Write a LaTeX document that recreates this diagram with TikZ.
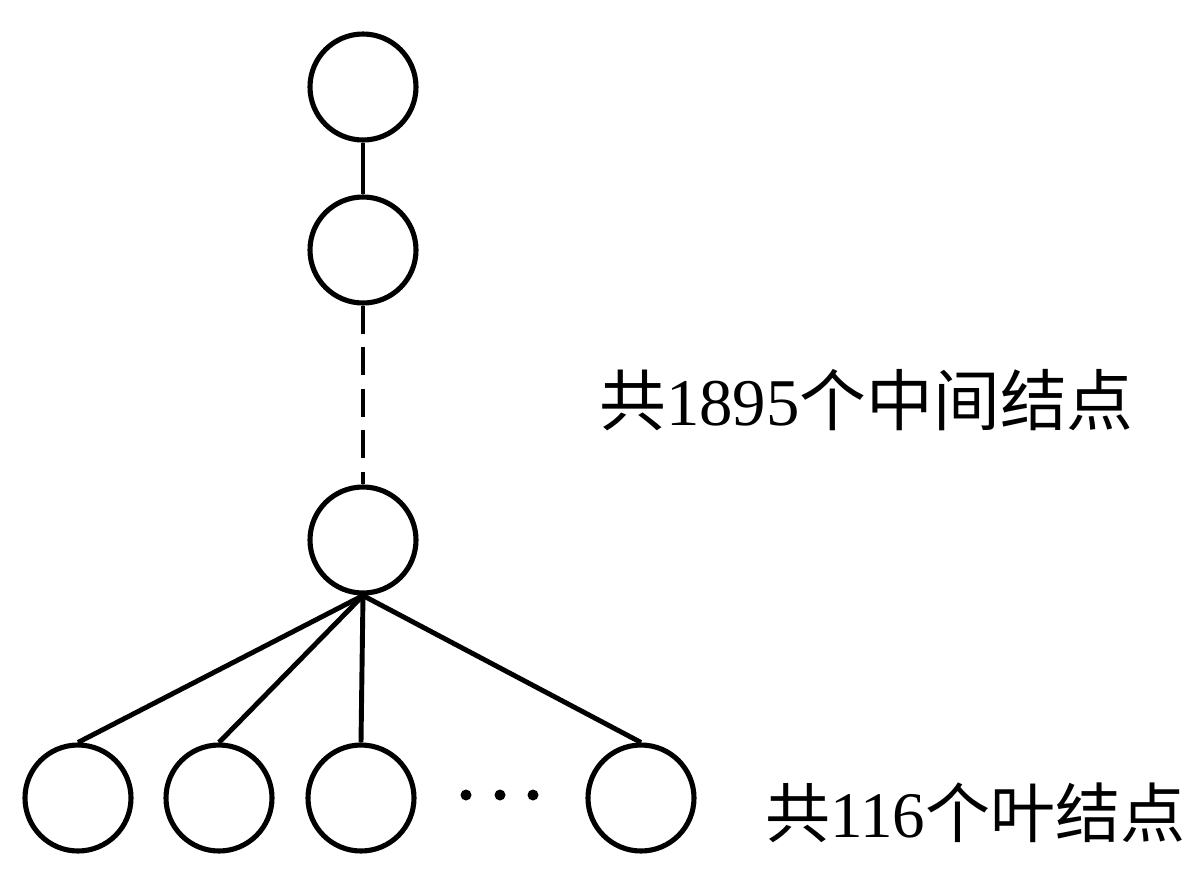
\documentclass[tikz,border=0pt]{standalone}
\usepackage{fontspec}
\setmainfont{Liberation Serif}
\newfontfamily\cjk{Noto Sans CJK SC}
\tikzset{
	tnode/.style={draw=black,circle,line width=2.9pt,minimum size=2.12cm,inner sep=0pt},
	tedge/.style={line width=2.8pt},
	lbl/.style={font=\fontsize{38}{41}\selectfont,inner sep=0pt,anchor=base west}
}
\begin{document}
	\begin{tikzpicture}
		\useasboundingbox (0,0) rectangle (23.92,-17.6);
		
		\node[tnode] (n1) at (7.26,-1.74) {};
		\node[tnode] (n2) at (7.26,-5.0) {};
		\node[tnode] (n3) at (7.26,-10.8) {};
		
		\draw [tedge] (n1) -- (n2);
		\draw [tedge,dash pattern=on 0.56cm off 0.27cm] (n2) -- (n3);
		
		\foreach \i/\x in {1/1.56,2/4.38,3/7.22,4/12.82}
		{
			\node[tnode] (l\i) at (\x,-15.96) {};
			\draw [tedge] (n3.south) -- (l\i.north);
		}
		
		\foreach \x in {9.32,10.0,10.66}
			\fill (\x,-15.9) circle (0.11);
		
		\node[lbl] (t1) at (11.98,-8.5) {{\cjk 共}1895{\cjk 个中间结点}};
		\node[lbl,font=\fontsize{37}{40}\selectfont] (t2) at (15.3,-16.75) {{\cjk 共}116{\cjk 个叶结点}};
	\end{tikzpicture}
\end{document}
